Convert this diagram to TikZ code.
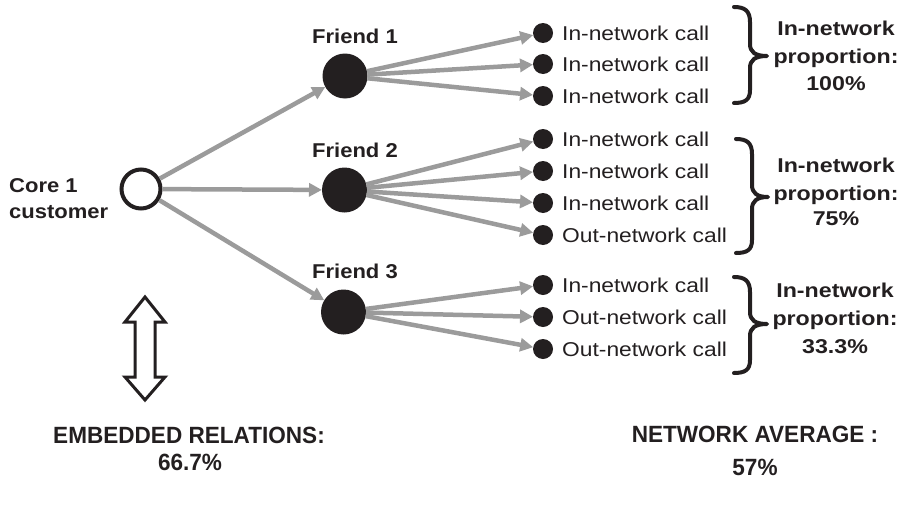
\documentclass[tikz,border=0pt]{standalone}
\usepackage{fontspec}
\setmainfont{Liberation Sans}
\newfontfamily\callfont[FakeStretch=1.14]{Liberation Sans}
\newfontfamily\frfont[FakeStretch=1.1]{Liberation Sans}
\newfontfamily\propfont[FakeStretch=1.16]{Liberation Sans}
\newfontfamily\botfont[FakeStretch=0.96]{Liberation Sans}
\usetikzlibrary{arrows.meta}
\definecolor{ink}{HTML}{231F20}
\definecolor{arrowgray}{RGB}{155,155,155}
\tikzset{
  core/.style={circle,draw=ink,line width=4pt,fill=white,minimum size=39pt,inner sep=0pt},
  friend/.style={circle,fill=ink,minimum size=45pt,inner sep=0pt,outer sep=0pt},
  calldot/.style={circle,fill=ink,minimum size=20pt,inner sep=0pt,outer sep=0pt},
  link/.style={draw=arrowgray,line width=4.5pt,-{Triangle[length=13pt,width=13pt]}},
  calltext/.style={anchor=base west,inner sep=0pt,text=ink,font=\callfont\fontsize{20}{24}\selectfont},
  frlabel/.style={anchor=base west,inner sep=0pt,text=ink,font=\frfont\bfseries\fontsize{20}{24}\selectfont},
  proplabel/.style={anchor=base,inner sep=0pt,text=ink,font=\propfont\bfseries\fontsize{20}{24}\selectfont},
  bottomlabel/.style={anchor=base,inner sep=0pt,text=ink,font=\botfont\bfseries\fontsize{23.5}{28}\selectfont},
  bracestyle/.style={draw=ink,line width=4pt,line cap=round,line join=round},
  bigarrow/.style={draw=ink,line width=3pt,fill=white,miter limit=10}
}
\begin{document}
\begin{tikzpicture}[x=1pt,y=-1pt]
\useasboundingbox (0,0) rectangle (902,514);

% core
\node[core] (core) at (141,189) {};
\node[frlabel] (corel1) at (9,192) {Core 1};
\node[frlabel] (corel2) at (9,218) {customer};

% friends
\node[friend] (f1) at (345,76) {};
\node[friend] (f2) at (344.5,190) {};
\node[friend] (f3) at (343.5,312) {};
\node[frlabel] (f1l) at (312,43) {Friend 1};
\node[frlabel] (f2l) at (312,157) {Friend 2};
\node[frlabel] (f3l) at (312,278) {Friend 3};

\draw[link] (core) -- (f1);
\draw[link] (core) -- (f2);
\draw[link] (core) -- (f3);

% call dots
\node[calldot] (d11) at (543,33) {};
\node[calldot] (d12) at (543,64) {};
\node[calldot] (d13) at (543,96) {};
\node[calldot] (d21) at (543,139) {};
\node[calldot] (d22) at (543,171) {};
\node[calldot] (d23) at (543,203) {};
\node[calldot] (d24) at (543,235) {};
\node[calldot] (d31) at (543,285) {};
\node[calldot] (d32) at (543,317) {};
\node[calldot] (d33) at (543,349) {};

\foreach \d in {d11,d12,d13} \draw[link] (f1) -- (\d);
\foreach \d in {d21,d22,d23,d24} \draw[link] (f2) -- (\d);
\foreach \d in {d31,d32,d33} \draw[link] (f3) -- (\d);

% call texts
\node[calltext] (t11) at (562,40) {In-network call};
\node[calltext] (t12) at (562,71) {In-network call};
\node[calltext] (t13) at (562,103) {In-network call};
\node[calltext] (t21) at (562,146) {In-network call};
\node[calltext] (t22) at (562,178) {In-network call};
\node[calltext] (t23) at (562,210) {In-network call};
\node[calltext] (t24) at (562,242) {Out-network call};
\node[calltext] (t31) at (562,292) {In-network call};
\node[calltext] (t32) at (562,324) {Out-network call};
\node[calltext] (t33) at (562,356) {Out-network call};

% braces
\draw[bracestyle] (734,7) .. controls (745,7) and (750,11) .. (750,22) -- (750,44)
  .. controls (750,52) and (755,56) .. (767,56) .. controls (755,56) and (750,60) .. (750,68)
  -- (750,90) .. controls (750,100) and (745,103) .. (734,103);
\draw[bracestyle] (736,139) .. controls (747,139) and (752,143) .. (752,154) -- (752,185)
  .. controls (752,193) and (757,197) .. (768,197) .. controls (757,197) and (752,201) .. (752,209)
  -- (752,240) .. controls (752,250) and (747,253) .. (736,253);
\draw[bracestyle] (734,277) .. controls (745,277) and (750,281) .. (750,292) -- (750,312)
  .. controls (750,320) and (755,324) .. (767,324) .. controls (755,324) and (750,328) .. (750,336)
  -- (750,360) .. controls (750,370) and (745,373) .. (734,373);

% proportions
\node[proplabel] (p1a) at (836,35) {In-network};
\node[proplabel] (p1b) at (836,63) {proportion:};
\node[proplabel] (p1c) at (836,90) {100\%};
\node[proplabel] (p2a) at (836,172) {In-network};
\node[proplabel] (p2b) at (836,200) {proportion:};
\node[proplabel] (p2c) at (836,225) {75\%};
\node[proplabel] (p3a) at (835,297) {In-network};
\node[proplabel] (p3b) at (835,325) {proportion:};
\node[proplabel] (p3c) at (835,353) {33.3\%};

% double arrow
\draw[bigarrow] (145,297) -- (165,322) -- (155,322) -- (155,377) -- (165,377)
  -- (145,400) -- (125,377) -- (135,377) -- (135,322) -- (125,322) -- cycle;

% bottom labels
\node[bottomlabel] (emb1) at (189,443) {EMBEDDED RELATIONS:};
\node[bottomlabel] (emb2) at (190,470) {66.7\%};
\node[bottomlabel] (net1) at (755,442) {NETWORK AVERAGE :};
\node[bottomlabel] (net2) at (755,475) {57\%};
\end{tikzpicture}
\end{document}
